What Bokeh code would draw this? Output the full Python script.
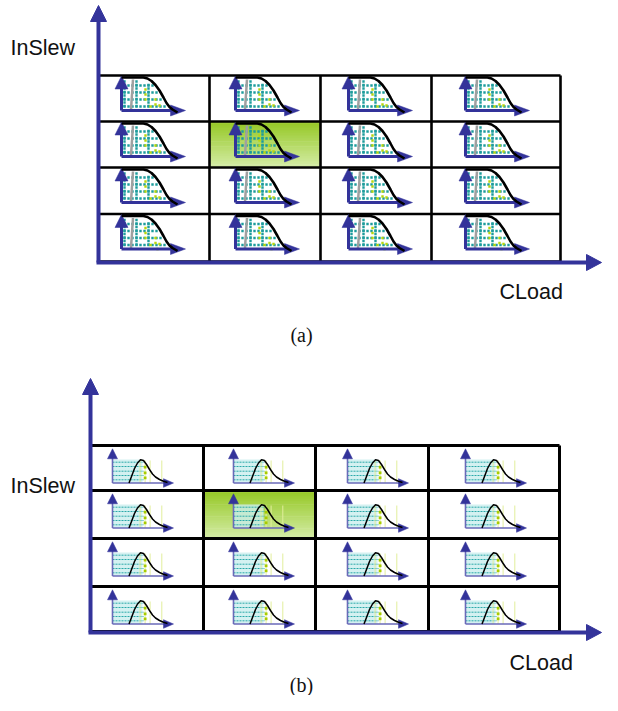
import numpy as np
from bokeh.plotting import figure
from bokeh.embed import file_html
from bokeh.resources import INLINE
from bokeh.core.properties import value

# ---- layout tables (reference pixel coordinates) ----
cols_a = [98, 209, 320, 431, 560]
rows_a = [75, 121, 167, 213.5, 261]
icon_x_a = [121, 235, 348, 465]
cols_b = [90, 203, 315, 428, 559]
rows_b = [445, 490, 538, 586, 631]
icon_x_b = [112, 233, 347, 465]
highlight_cell = (1, 1)          # (row, col) of the green cell

axis_a = dict(x0=98, y0=262, xtip=601, ytip=5)
axis_b = dict(x0=90, y0=632, xtip=601, ytip=378)

labels_text = ["InSlew", "CLoad", "InSlew", "CLoad"]
labels_x = [10, 499, 10, 509]
labels_y = [47, 291, 485, 662]
caption_text = ["(a)", "(b)"]
caption_x = [301, 301]
caption_y = [334, 684]

# icon (a): monotone falling curve, local coords (dx from icon axis, dy from row top)
curve_a_x = [0, 22, 26, 30, 34, 38, 42, 45, 48, 51, 56]
curve_a_y = [2, 2, 3, 5.5, 9.5, 15, 22, 27.5, 31.5, 34, 37]
teal_cols_a = [3, 7, 11, 15, 19, 23, 27, 31, 35, 39, 43, 47]
teal_rows_a = [10, 17, 24, 31]
dense_cols_a = [3, 15, 27]
yellow_a_x = [24, 24, 24, 34, 34, 29, 38, 36]
yellow_a_y = [14, 19, 24, 24, 29, 31, 30, 35]
gray_a = ([11.5, 9.5], [4, 34])

# icon (b): bell curve with striped band
curve_b_x = [16.5, 19, 22, 25, 28, 31, 34, 37, 40, 43, 47, 51, 55]
curve_b_y = [37.5, 31, 23, 17.5, 14.3, 15, 19, 24, 28.5, 31.5, 34, 35.8, 37]
band_b_y = [16.7, 21, 25.7, 30, 34.3]
vlines_b_x = [27.6, 32.6, 37.6, 49.3]
yellow_b_x = [32.6, 32.6, 32.6]
yellow_b_y = [21.7, 27.3, 32.3]

BLUE = "#33339a"
LAV = "#6a6ab8"

W, H = 602, 695
p = figure(width=W, height=H, x_range=(0, W), y_range=(H, 0),
           output_backend="svg", toolbar_location=None,
           x_axis_location=None, y_axis_location=None, min_border=0)
p.grid.visible = False
p.outline_line_color = None
p.background_fill_color = "white"


def tri_up(x, ytip, length, hw):
    return [x - hw, x, x + hw], [ytip + length, ytip, ytip + length]


def tri_right(xtip, y, length, hh):
    return [xtip - length, xtip, xtip - length], [y - hh, y, y + hh]


# ---- highlighted gradient cells ----
def gradient(x0, x1, y0, y1, n=28):
    top = np.array([150, 200, 38])
    bot = np.array([212, 236, 165])
    L, R, T, B, C = [], [], [], [], []
    edges = np.linspace(y0, y1, n + 1)
    for i in range(n):
        t = i / (n - 1)
        c = (top * (1 - t) + bot * t).astype(int)
        L.append(x0); R.append(x1); T.append(edges[i]); B.append(edges[i + 1] + 0.6)
        C.append("#%02x%02x%02x" % tuple(c))
    p.quad(left=L, right=R, top=T, bottom=B, fill_color=C, line_color=None)


hr, hc = highlight_cell
gradient(cols_a[hc], cols_a[hc + 1], rows_a[hr], rows_a[hr + 1])
gradient(cols_b[hc], cols_b[hc + 1], rows_b[hr], rows_b[hr + 1])


# ---- grid lines ----
def grid(cols, rows, lw):
    x0s, y0s, x1s, y1s = [], [], [], []
    for r in rows:
        x0s.append(cols[0]); x1s.append(cols[-1]); y0s.append(r); y1s.append(r)
    for c in cols:
        x0s.append(c); x1s.append(c); y0s.append(rows[0]); y1s.append(rows[-1])
    p.segment(x0=x0s, y0=y0s, x1=x1s, y1=y1s, line_color="black", line_width=lw)


grid(cols_a, rows_a, 2.6)
grid(cols_b, rows_b, 3)

# ---- icons (a) ----
tx, ty, yx, yy = [], [], [], []
cxs, cys, gxs, gys = [], [], [], []
pxs, pys = [], []
vx0, vy0, vx1, vy1 = [], [], [], []
cax = np.array(curve_a_x, float); cay = np.array(curve_a_y, float)
for r in range(4):
    for c in range(4):
        ax = icon_x_a[c]; top = rows_a[r]
        for dx in teal_cols_a:
            lim = np.interp(dx, cax, cay)
            for dy in teal_rows_a:
                if dy > lim + 2.5:
                    tx.append(ax + dx); ty.append(top + dy)
        for dx in dense_cols_a:
            lim = np.interp(dx, cax, cay)
            for dy in np.arange(6, 34, 3.5):
                if dy > lim + 2.5:
                    tx.append(ax + dx); ty.append(top + dy)
        for dx, dy in zip(yellow_a_x, yellow_a_y):
            yx.append(ax + dx); yy.append(top + dy)
        cxs.append([ax + v for v in curve_a_x]); cys.append([top + v for v in curve_a_y])
        gxs.append([ax + v for v in gray_a[0]]); gys.append([top + v for v in gray_a[1]])
        vx0 += [ax, ax]; vy0 += [top + 35, top + 35]
        vx1 += [ax, ax + 52]; vy1 += [top + 12, top + 35]
        a1 = tri_up(ax, top + 0.5, 13, 6.5)
        a2 = tri_right(ax + 64, top + 35, 15, 5.5)
        pxs += [a1[0], a2[0]]; pys += [a1[1], a2[1]]

p.scatter(tx, ty, marker="square", size=2.4, color="#1e9c9c", line_color=None)
p.scatter(yx, yy, marker="square", size=2.4, color="#b8d60c", line_color=None)
p.multi_line(gxs, gys, line_color="#a0a0a0", line_width=2.5)
p.segment(x0=vx0, y0=vy0, x1=vx1, y1=vy1, line_color=BLUE, line_width=3)
p.patches(pxs, pys, fill_color=BLUE, line_color=BLUE, line_width=0.5)
p.multi_line(cxs, cys, line_color="black", line_width=2.6)

# ---- icons (b) ----
bl, br, bt, bb = [], [], [], []
hx0, hy0, hx1, hy1 = [], [], [], []
yvx0, yvy0, yvx1, yvy1 = [], [], [], []
dx_, dy_ = [], []
cbx, cby = [], []
pxs, pys = [], []
lx0, ly0, lx1, ly1 = [], [], [], []
for r in range(4):
    for c in range(4):
        ax = icon_x_b[c]; top = rows_b[r]
        bl.append(ax); br.append(ax + 30); bt.append(top + 14); bb.append(top + 37.5)
        for yv in band_b_y:
            hx0.append(ax); hx1.append(ax + 31); hy0.append(top + yv); hy1.append(top + yv)
        for xv in vlines_b_x:
            yvx0.append(ax + xv); yvx1.append(ax + xv); yvy0.append(top + 15); yvy1.append(top + 37.5)
        for xv, yv in zip(yellow_b_x, yellow_b_y):
            dx_.append(ax + xv); dy_.append(top + yv)
        cbx.append([ax + v for v in curve_b_x]); cby.append([top + v for v in curve_b_y])
        lx0 += [ax, ax]; ly0 += [top + 37.5, top + 37.5]
        lx1 += [ax, ax + 52]; ly1 += [top + 12, top + 37.5]
        a1 = tri_up(ax, top + 3.3, 10, 5)
        a2 = tri_right(ax + 61, top + 37.5, 10, 4.3)
        pxs += [a1[0], a2[0]]; pys += [a1[1], a2[1]]

p.quad(left=bl, right=br, top=bt, bottom=bb, fill_color="#c9eeee", fill_alpha=0.8, line_color=None)
p.segment(x0=hx0, y0=hy0, x1=hx1, y1=hy1, line_color="#2aa9a9", line_width=1, line_dash="2 1")
p.segment(x0=yvx0, y0=yvy0, x1=yvx1, y1=yvy1, line_color="#e2ee9c", line_width=1)
p.scatter(dx_, dy_, marker="square", size=2.8, color="#a8cc00", line_color=None)
p.segment(x0=lx0, y0=ly0, x1=lx1, y1=ly1, line_color=LAV, line_width=1.6)
p.patches(pxs, pys, fill_color=BLUE, line_color=BLUE, line_width=0.5)
p.multi_line(cbx, cby, line_color="black", line_width=1.5)

# ---- main axes ----
for ax in (axis_a, axis_b):
    p.segment(x0=[ax["x0"], ax["x0"] - 2], y0=[ax["y0"], ax["y0"]],
              x1=[ax["x0"], ax["xtip"] - 12], y1=[ax["ytip"] + 14, ax["y0"]],
              line_color=BLUE, line_width=4)
    t1 = tri_up(ax["x0"], ax["ytip"], 16, 8)
    t2 = tri_right(ax["xtip"], ax["y0"], 15, 8)
    p.patches([t1[0], t2[0]], [t1[1], t2[1]], fill_color=BLUE, line_color=BLUE)

# ---- texts ----
p.text(x=labels_x, y=labels_y, text=labels_text, text_font=value("Liberation Sans"),
       text_font_size="21.5px", text_baseline="middle", text_align="left", text_color="#111111")
p.text(x=caption_x, y=caption_y, text=caption_text, text_font=value("Liberation Serif"),
       text_font_size="20px", text_baseline="middle", text_align="center", text_color="#111111")

open("out.html", "w").write(file_html(p, INLINE))
